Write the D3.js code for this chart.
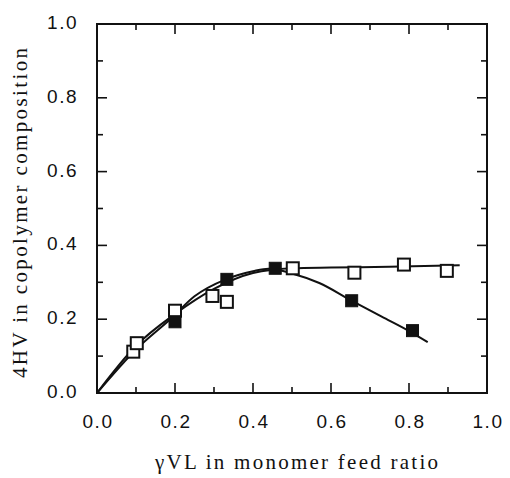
<!DOCTYPE html>
<html lang="en">
<head>
<meta charset="UTF-8">
<title>4HV vs gammaVL</title>
<script src="https://cdn.jsdelivr.net/npm/d3@7"></script>
<style>
    html, body { margin: 0; padding: 0; background: #fff; }
    .tick-label { font-family: "Liberation Sans", Arial, sans-serif; font-size: 19px; fill: #111; letter-spacing: 1.5px; }
    .axis-title { font-family: "Liberation Serif", "Times New Roman", serif; font-size: 21px; fill: #111; }
</style>
</head>
<body>
<div id="chart"></div>
<script>
    // tick labels
    var xTicks = [0.0, 0.2, 0.4, 0.6, 0.8, 1.0];
    var yTicks = [0.0, 0.2, 0.4, 0.6, 0.8, 1.0];
    var minorTicks = [0.1, 0.3, 0.5, 0.7, 0.9];

    // open squares
    var openX = [0.093, 0.102, 0.20, 0.296, 0.333, 0.502, 0.66, 0.787, 0.897];
    var openY = [0.112, 0.135, 0.223, 0.263, 0.247, 0.338, 0.326, 0.348, 0.331];

    // filled squares
    var filledX = [0.20, 0.333, 0.457, 0.653, 0.809];
    var filledY = [0.193, 0.308, 0.338, 0.250, 0.169];

    // fitted curves
    var fitFilledX = [0.0, 0.10, 0.19, 0.25, 0.33, 0.40, 0.44, 0.50, 0.57, 0.65, 0.73, 0.80, 0.848];
    var fitFilledY = [0.0, 0.118, 0.202, 0.262, 0.308, 0.330, 0.337, 0.324, 0.298, 0.252, 0.207, 0.168, 0.138];
    var fitOpenX = [0.0, 0.10, 0.20, 0.30, 0.40, 0.50, 0.60, 0.75, 0.93];
    var fitOpenY = [0.0, 0.128, 0.214, 0.282, 0.325, 0.338, 0.340, 0.342, 0.346];

    var width = 510, height = 478;
    var margin = {top: 24, right: 23, bottom: 85, left: 97};

    var svg = d3.select('#chart').append('svg')
        .attr('width', width)
        .attr('height', height);

    var x = d3.scaleLinear().domain([0, 1]).range([margin.left, width - margin.right]);
    var y = d3.scaleLinear().domain([0, 1]).range([height - margin.bottom, margin.top]);

    var x0 = x(0), x1 = x(1), y0 = y(0), y1 = y(1);

    // frame
    svg.append('rect')
        .attr('x', x0).attr('y', y1)
        .attr('width', x1 - x0).attr('height', y0 - y1)
        .attr('fill', 'none').attr('stroke', '#111').attr('stroke-width', 2);

    // ticks (inward, all four sides)
    var major = 10, minor = 6;
    var g = svg.append('g').attr('stroke', '#111').attr('stroke-width', 1.6);
    function tickSet(vals, len) {
        vals.forEach(function (v) {
            g.append('line').attr('x1', x(v)).attr('x2', x(v)).attr('y1', y0).attr('y2', y0 - len);
            g.append('line').attr('x1', x(v)).attr('x2', x(v)).attr('y1', y1).attr('y2', y1 + len);
            g.append('line').attr('y1', y(v)).attr('y2', y(v)).attr('x1', x0).attr('x2', x0 + len);
            g.append('line').attr('y1', y(v)).attr('y2', y(v)).attr('x1', x1).attr('x2', x1 - len);
        });
    }
    tickSet(xTicks.slice(1, -1), major);
    tickSet(minorTicks, minor);

    // tick labels
    svg.selectAll('.xl').data(xTicks).enter().append('text')
        .attr('class', 'tick-label')
        .attr('x', function (d) { return x(d) + 1; })
        .attr('y', y0 + 35)
        .attr('text-anchor', 'middle')
        .text(function (d) { return d.toFixed(1); });

    svg.selectAll('.yl').data(yTicks).enter().append('text')
        .attr('class', 'tick-label')
        .attr('x', x0 - 19)
        .attr('y', function (d) { return y(d) + 5; })
        .attr('text-anchor', 'end')
        .text(function (d) { return d.toFixed(1); });

    // axis titles
    svg.append('text')
        .attr('class', 'axis-title')
        .attr('x', 155).attr('y', 469)
        .attr('textLength', 283).attr('lengthAdjust', 'spacing')
        .text('γVL in monomer feed ratio');

    svg.append('text')
        .attr('class', 'axis-title')
        .attr('transform', 'translate(27,378) rotate(-90)')
        .attr('x', 0).attr('y', 0)
        .attr('textLength', 330).attr('lengthAdjust', 'spacing')
        .text('4HV in copolymer composition');

    // curves
    var line = d3.line()
        .x(function (d) { return x(d[0]); })
        .y(function (d) { return y(d[1]); })
        .curve(d3.curveMonotoneX);

    svg.append('path')
        .attr('d', line(d3.zip(fitOpenX, fitOpenY)))
        .attr('fill', 'none').attr('stroke', '#111').attr('stroke-width', 2);

    svg.append('path')
        .attr('d', line(d3.zip(fitFilledX, fitFilledY)))
        .attr('fill', 'none').attr('stroke', '#111').attr('stroke-width', 2);

    // markers
    var s = 12;
    svg.selectAll('.open').data(d3.zip(openX, openY)).enter().append('rect')
        .attr('x', function (d) { return x(d[0]) - s / 2; })
        .attr('y', function (d) { return y(d[1]) - s / 2; })
        .attr('width', s).attr('height', s)
        .attr('fill', '#fff').attr('stroke', '#111').attr('stroke-width', 2);

    svg.selectAll('.filled').data(d3.zip(filledX, filledY)).enter().append('rect')
        .attr('x', function (d) { return x(d[0]) - s / 2; })
        .attr('y', function (d) { return y(d[1]) - s / 2; })
        .attr('width', s).attr('height', s)
        .attr('fill', '#111').attr('stroke', '#111').attr('stroke-width', 1);
</script>
</body>
</html>
